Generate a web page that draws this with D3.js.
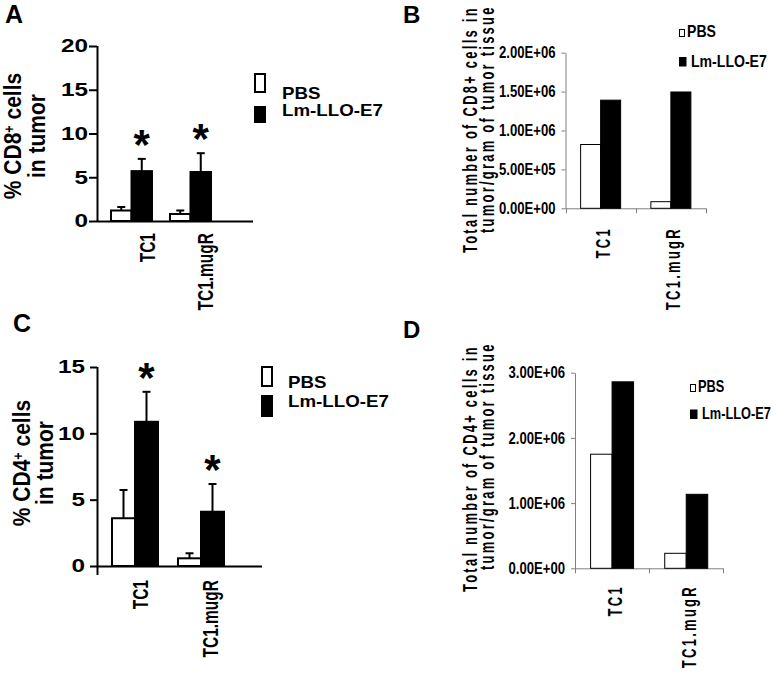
<!DOCTYPE html>
<html>
<head>
<meta charset="utf-8">
<script src="https://cdn.jsdelivr.net/npm/d3@7"></script>
<style>
  body { margin: 0; background: #fff; }
  svg { display: block; font-family: "Liberation Sans", Arial, sans-serif; font-weight: bold; }
</style>
</head>
<body>
<svg id="fig" width="773" height="674"></svg>
<script>
const categories = ["TC1", "TC1.mugR"];
const groups = ["PBS", "Lm-LLO-E7"];

// A: % CD8+ cells in tumor
const cd8PctPBS = [1.2, 0.8];
const cd8PctPBSErr = [0.4, 0.4];
const cd8PctLLO = [5.7, 5.6];
const cd8PctLLOErr = [1.4, 2.15];
const cd8PctStar = [true, true];
const cd8PctTicks = [0, 5, 10, 15, 20];

// B: total CD8+ cells per gram of tumor
const cd8TotPBS = [8.2e5, 8.5e4];
const cd8TotLLO = [1.39e6, 1.495e6];
const cd8TotTicks = [0, 5e5, 1e6, 1.5e6, 2e6];

// C: % CD4+ cells in tumor
const cd4PctPBS = [3.6, 0.58];
const cd4PctPBSErr = [2.13, 0.38];
const cd4PctLLO = [10.87, 4.09];
const cd4PctLLOErr = [2.26, 2.09];
const cd4PctStar = [true, true];
const cd4PctTicks = [0, 5, 10, 15];

// D: total CD4+ cells per gram of tumor
const cd4TotPBS = [1.75e6, 2.3e5];
const cd4TotLLO = [2.86e6, 1.135e6];
const cd4TotTicks = [0, 1e6, 2e6, 3e6];

const svg = d3.select("#fig");

function rows(pbs, llo, pbsErr, lloErr, star) {
  const out = [];
  categories.forEach((c, i) => {
    out.push({ cat: c, group: groups[0], v: pbs[i], e: pbsErr ? pbsErr[i] : 0, star: false });
    out.push({ cat: c, group: groups[1], v: llo[i], e: lloErr ? lloErr[i] : 0, star: star ? star[i] : false });
  });
  return out;
}

// scientific labels like Excel: 1.50E+06
function sci(d) {
  const [m, e] = d.toExponential(2).split("e");
  const n = +e;
  return m + "E" + (n < 0 ? "-" : "+") + String(Math.abs(n)).padStart(2, "0");
}

// text drawn at 0,0 and placed/stretched with a transform
function label(g, x, y, str, o) {
  return g.append("text")
    .attr("transform", `translate(${x},${y}) rotate(${o.rot || 0}) scale(${o.sx || 1},${o.sy || 1})`)
    .attr("font-size", o.size)
    .attr("text-anchor", o.anchor || "start")
    .attr("letter-spacing", o.ls || 0)
    .text(str);
}

function styleTicks(ax, size, sx) {
  ax.attr("font-family", null).attr("font-size", null);
  ax.selectAll(".tick text").each(function() {
    const t = d3.select(this);
    const x = +t.attr("x");
    t.attr("x", 0).attr("font-size", size).attr("fill", "#000")
      .attr("transform", `translate(${x},0) scale(${sx},1)`);
  });
}

// ---------- GraphPad style panels (A, C) ----------
function prism(p) {
  const g = svg.append("g");
  const y = d3.scaleLinear().domain([0, p.yMax]).range([p.yBase, p.yTop]);
  const x0 = d3.scaleBand().domain(categories).range(p.xRange);
  const x1 = d3.scaleBand().domain(groups).range([-p.barW, p.barW]);
  const bx = d => x0(d.cat) + x0.bandwidth() / 2 + x1(d.group);
  const mid = d => bx(d) + x1.bandwidth() / 2;

  g.append("line")
    .attr("x1", p.axisX).attr("x2", p.xEnd)
    .attr("y1", y(0) + 0.5).attr("y2", y(0) + 0.5)
    .attr("stroke", "#000").attr("stroke-width", 2);

  g.selectAll("line.err").data(p.rows).join("line")
    .attr("class", "err")
    .attr("x1", mid).attr("x2", mid)
    .attr("y1", d => y(d.v)).attr("y2", d => y(d.v + d.e))
    .attr("stroke", "#000").attr("stroke-width", 2);
  g.selectAll("line.cap").data(p.rows).join("line")
    .attr("class", "cap")
    .attr("x1", d => mid(d) - 4).attr("x2", d => mid(d) + 4)
    .attr("y1", d => y(d.v + d.e)).attr("y2", d => y(d.v + d.e))
    .attr("stroke", "#000").attr("stroke-width", 2);

  g.selectAll("rect.bar").data(p.rows).join("rect")
    .attr("class", "bar")
    .attr("x", bx)
    .attr("y", d => y(d.v))
    .attr("width", x1.bandwidth())
    .attr("height", d => y(0) - y(d.v))
    .attr("fill", d => d.group === groups[0] ? "#fff" : "#000")
    .attr("stroke", "#000").attr("stroke-width", 2);

  g.selectAll("text.star").data(p.rows.filter(d => d.star)).join("text")
    .attr("class", "star")
    .attr("x", mid)
    .attr("y", d => y(d.v + d.e))
    .attr("text-anchor", "middle")
    .attr("font-size", 42)
    .text("*");

  const ax = g.append("g")
    .attr("transform", `translate(${p.axisX},0)`)
    .call(d3.axisLeft(y).tickValues(p.ticks).tickSize(p.tick).tickSizeOuter(0).tickPadding(p.pad));
  ax.select(".domain").remove();
  ax.append("line").attr("x1", 0.5).attr("x2", 0.5)
    .attr("y1", p.yTop).attr("y2", p.axisBottom)
    .attr("stroke", "#000").attr("stroke-width", 2);
  ax.selectAll(".tick line").attr("stroke-width", 2);
  styleTicks(ax, p.tickFont, 1.35);

  categories.forEach((c, i) => {
    label(g, x0(c) + x0.bandwidth() / 2 + p.xLabOff[i], p.xLabY, c,
      { rot: -90, size: 15.5, anchor: "end", sy: 1.45 });
  });

  const yl = label(g, p.yLab[0], p.yLabY, "", { rot: -90, size: 21, anchor: "middle", sy: 1.1 });
  yl.append("tspan").text("% " + p.cell);
  yl.append("tspan").attr("baseline-shift", "super").attr("font-size", "0.6em").text("+");
  yl.append("tspan").text(" cells");
  label(g, p.yLab[1], p.yLabY, "in tumor", { rot: -90, size: 21, anchor: "middle", sy: 1.1 });

  const L = p.legend;
  g.append("rect").attr("x", L.x).attr("y", L.r1[0]).attr("width", 10).attr("height", L.r1[1])
    .attr("fill", "#fff").attr("stroke", "#000").attr("stroke-width", 2);
  g.append("rect").attr("x", L.x - 1).attr("y", L.r2[0]).attr("width", 12).attr("height", L.r2[1])
    .attr("fill", "#000");
  label(g, L.tx, L.t1, groups[0], { size: 16, sx: 1.17 });
  label(g, L.tx, L.t2, groups[1], { size: 16, sx: 1.17 });

  label(g, p.letter[0], p.letter[1], p.letter[2], { size: 25 });
}

// ---------- Excel style panels (B, D) ----------
function excel(p) {
  const g = svg.append("g");
  const y = d3.scaleLinear().domain([0, p.yMax]).range([p.yBase, p.yTop]);
  const x0 = d3.scaleBand().domain(categories).range([p.axisX, p.xEnd]);
  const x1 = d3.scaleBand().domain(groups).range([-p.barW, p.barW]);
  const bx = d => x0(d.cat) + x0.bandwidth() / 2 + x1(d.group);
  const grey = "#808080";

  const ax = g.append("g")
    .attr("transform", `translate(${p.axisX},0)`)
    .call(d3.axisLeft(y).tickValues(p.ticks).tickSize(4).tickSizeOuter(0).tickPadding(6).tickFormat(sci));
  ax.select(".domain").attr("stroke", grey);
  ax.selectAll(".tick line").attr("stroke", grey);
  styleTicks(ax, 16, 0.82);

  g.append("line")
    .attr("x1", p.axisX).attr("x2", p.xEnd)
    .attr("y1", y(0) + 0.5).attr("y2", y(0) + 0.5)
    .attr("stroke", grey);
  g.selectAll("line.xt").data(categories.map(c => x0(c)).concat([p.xEnd])).join("line")
    .attr("class", "xt")
    .attr("x1", d => Math.round(d) + 0.5).attr("x2", d => Math.round(d) + 0.5)
    .attr("y1", y(0)).attr("y2", y(0) + 5)
    .attr("stroke", grey);

  g.selectAll("rect.bar").data(p.rows).join("rect")
    .attr("class", "bar")
    .attr("x", bx)
    .attr("y", d => y(d.v))
    .attr("width", x1.bandwidth())
    .attr("height", d => y(0) - y(d.v))
    .attr("fill", d => d.group === groups[0] ? "#fff" : "#000")
    .attr("stroke", "#000").attr("stroke-width", 1);

  categories.forEach(c => {
    label(g, x0(c) + x0.bandwidth() / 2 + p.xLabOff, p.xLabY, c,
      { rot: -90, size: 20, anchor: "end", sx: 0.65, ls: 3.5 });
  });

  label(g, p.yLab[0], p.yLabStart[0], "Total number of " + p.cell + "+ cells in",
    { rot: -90, size: 20, sx: 0.647, ls: 3.5 });
  label(g, p.yLab[1], p.yLabStart[1], "tumor/gram of tumor tissue",
    { rot: -90, size: 20, sx: 0.647, ls: 3.5 });

  const L = p.legend;
  g.append("rect").attr("x", L.x + 0.5).attr("y", L.y1 - 7.5).attr("width", 5).attr("height", 7)
    .attr("fill", "#fff").attr("stroke", "#000");
  g.append("rect").attr("x", L.x).attr("y", L.y2 - 9.5).attr("width", 7.5).attr("height", 9.5)
    .attr("fill", "#000");
  label(g, L.x + 8, L.y1, groups[0], { size: 16, sx: L.sx });
  label(g, L.x + 12, L.y2, groups[1], { size: 16, sx: L.sx });

  label(g, p.letter[0], p.letter[1], p.letter[2], { size: 24 });
}

prism({
  rows: rows(cd8PctPBS, cd8PctLLO, cd8PctPBSErr, cd8PctLLOErr, cd8PctStar),
  yMax: 20, yBase: 221, yTop: 46, ticks: cd8PctTicks,
  xRange: [102, 220], barW: 20.5, axisX: 97, xEnd: 253, axisBottom: 222,
  tick: 8, pad: 1, tickFont: 18,
  xLabOff: [23, 22], xLabY: 233,
  cell: "CD8", yLab: [21, 45], yLabY: 136,
  legend: { x: 255, r1: [74, 18], r2: [106, 17], tx: 282, t1: 99, t2: 116 },
  letter: [5, 23, "A"]
});

excel({
  rows: rows(cd8TotPBS, cd8TotLLO),
  yMax: 2e6, yBase: 208.3, yTop: 52.7, ticks: cd8TotTicks,
  axisX: 565.5, xEnd: 706, barW: 20,
  xLabOff: 9, xLabY: 227,
  cell: "CD8", yLab: [477, 494], yLabStart: [253, 233],
  legend: { x: 679, y1: 37, y2: 66.5, sx: 0.88 },
  letter: [403, 23, "B"]
});

prism({
  rows: rows(cd4PctPBS, cd4PctLLO, cd4PctPBSErr, cd4PctLLOErr, cd4PctStar),
  yMax: 15, yBase: 566, yTop: 367, ticks: cd4PctTicks,
  xRange: [102, 234], barW: 23, axisX: 97, xEnd: 262, axisBottom: 575,
  tick: 7, pad: 5, tickFont: 18,
  xLabOff: [13, 17], xLabY: 580,
  cell: "CD4", yLab: [30, 53], yLabY: 463,
  legend: { x: 262, r1: [367, 19], r2: [395, 22], tx: 288, t1: 388, t2: 407 },
  letter: [13, 332, "C"]
});

excel({
  rows: rows(cd4TotPBS, cd4TotLLO),
  yMax: 3e6, yBase: 568.3, yTop: 372.7, ticks: cd4TotTicks,
  axisX: 575, xEnd: 723.3, barW: 21.5,
  xLabOff: 10, xLabY: 585,
  cell: "CD4", yLab: [477, 494], yLabStart: [592, 570],
  legend: { x: 690, y1: 392, y2: 419, sx: 0.8 },
  letter: [403, 338, "D"]
});
</script>
</body>
</html>
